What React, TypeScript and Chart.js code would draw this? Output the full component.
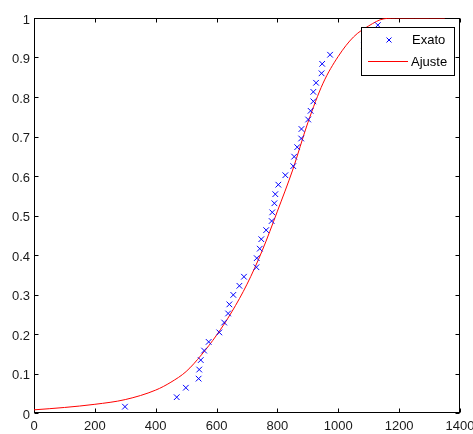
import { useEffect, useRef } from 'react';
import { Chart, registerables } from 'chart.js';

Chart.register(...registerables);

// "Exato" scatter points
const exatoX = [299, 469, 499, 541, 543, 548, 559, 574, 609, 625, 638, 642, 655, 675, 690, 731, 732, 742, 747, 763, 781, 783, 790, 793, 803, 826, 852, 855, 865, 878, 879, 901, 909, 918, 918, 927, 945, 947, 973, 1085, 1110, 1130];
const exatoY = [0.016, 0.040, 0.064, 0.087, 0.110, 0.134, 0.158, 0.180, 0.204, 0.229, 0.252, 0.275, 0.299, 0.322, 0.345, 0.369, 0.392, 0.416, 0.440, 0.463, 0.486, 0.508, 0.531, 0.554, 0.578, 0.602, 0.625, 0.649, 0.673, 0.695, 0.719, 0.743, 0.765, 0.789, 0.813, 0.836, 0.860, 0.884, 0.907, 0.930, 0.953, 0.982];

// "Ajuste" fitted curve
const ajusteX = [0, 100, 200, 300, 400, 450, 500, 550, 600, 650, 700, 750, 800, 850, 900, 950, 1000, 1050, 1100, 1150, 1200, 1250, 1300, 1350];
const ajusteY = [0.008, 0.014, 0.022, 0.034, 0.058, 0.078, 0.105, 0.147, 0.197, 0.256, 0.326, 0.411, 0.511, 0.615, 0.735, 0.835, 0.903, 0.952, 0.980, 0.998, 1.0, 1.0, 1.0, 1.0];

const xTicks = [0, 200, 400, 600, 800, 1000, 1200, 1400];
const xTickLabels = ['0', '200', '400', '600', '800', '1000', '1200', '1400'];
const yTicks = [0, 0.1, 0.2, 0.3, 0.4, 0.5, 0.6, 0.7, 0.8, 0.9, 1];
const yTickLabels = ['0', '0.1', '0.2', '0.3', '0.4', '0.5', '0.6', '0.7', '0.8', '0.9', '1'];
const seriesNames = ['Exato', 'Ajuste'];

const FONT_FAMILY = '"Liberation Sans", Arial, Helvetica, sans-serif';
const BLUE = '#0000ff';
const RED = '#ff0000';

const boxPlugin = {
  id: 'matlabBox',
  beforeDatasetsDraw(chart: any) {
    const { ctx, chartArea: a, scales } = chart;
    ctx.save();
    ctx.strokeStyle = '#000';
    ctx.lineWidth = 1;
    const L = Math.round(a.left) + 0.5;
    const R = Math.round(a.right) - 0.5;
    const T = Math.round(a.top) + 0.5;
    const B = Math.round(a.bottom) - 0.5;
    ctx.strokeRect(L, T, R - L, B - T);
    const len = 4;
    ctx.beginPath();
    scales.x.ticks.forEach((t: any) => {
      const px = Math.round(scales.x.getPixelForValue(t.value)) + 0.5;
      ctx.moveTo(px, B);
      ctx.lineTo(px, B - len);
      ctx.moveTo(px, T);
      ctx.lineTo(px, T + len);
    });
    scales.y.ticks.forEach((t: any) => {
      const py = Math.round(scales.y.getPixelForValue(t.value)) + 0.5;
      ctx.moveTo(L, py);
      ctx.lineTo(L + len, py);
      ctx.moveTo(R, py);
      ctx.lineTo(R - len, py);
    });
    ctx.stroke();
    ctx.restore();
  },
};

const legendPlugin = {
  id: 'insideLegend',
  afterDatasetsDraw(chart: any) {
    const { ctx, chartArea: a } = chart;
    const w = 94;
    const h = 49;
    const x0 = Math.round(a.right) - 5 - w;
    const y0 = Math.round(a.top) + 9;
    ctx.save();
    ctx.fillStyle = '#fff';
    ctx.fillRect(x0, y0, w, h);
    ctx.strokeStyle = '#000';
    ctx.lineWidth = 1;
    ctx.strokeRect(x0 + 0.5, y0 + 0.5, w - 1, h - 1);
    // marker x
    const mx = x0 + 28;
    const my = y0 + 13;
    const r = 2.5;
    ctx.strokeStyle = BLUE;
    ctx.beginPath();
    ctx.moveTo(mx - r, my - r);
    ctx.lineTo(mx + r, my + r);
    ctx.moveTo(mx - r, my + r);
    ctx.lineTo(mx + r, my - r);
    ctx.stroke();
    // line sample
    ctx.strokeStyle = RED;
    ctx.beginPath();
    ctx.moveTo(x0 + 7, y0 + 34.5);
    ctx.lineTo(x0 + 47, y0 + 34.5);
    ctx.stroke();
    ctx.fillStyle = '#000';
    ctx.font = '13px ' + FONT_FAMILY;
    ctx.textAlign = 'left';
    ctx.textBaseline = 'middle';
    ctx.fillText(seriesNames[0], x0 + 51, my);
    ctx.fillText(seriesNames[1], x0 + 50, y0 + 35);
    ctx.restore();
  },
};

export default function App() {
  const ref = useRef<HTMLCanvasElement>(null);
  useEffect(() => {
    document.body.style.margin = '0';
    const exato = exatoX.map((x, i) => ({ x, y: exatoY[i] }));
    const ajuste = ajusteX.map((x, i) => ({ x, y: ajusteY[i] }));
    const chart = new Chart(ref.current as HTMLCanvasElement, {
      type: 'scatter',
      data: {
        datasets: [
          {
            label: seriesNames[0],
            data: exato,
            pointStyle: 'crossRot',
            pointRadius: 4,
            borderColor: BLUE,
            backgroundColor: BLUE,
            borderWidth: 1,
            showLine: false,
          },
          {
            label: seriesNames[1],
            data: ajuste,
            showLine: true,
            pointRadius: 0,
            borderColor: RED,
            borderWidth: 1,
            cubicInterpolationMode: 'monotone',
            fill: false,
          },
        ],
      } as any,
      options: {
        animation: false,
        responsive: false,
        devicePixelRatio: 1,
        layout: { padding: { top: 18, right: 13, left: 0, bottom: 0 } },
        plugins: { legend: { display: false }, tooltip: { enabled: false } },
        scales: {
          x: {
            type: 'linear',
            min: 0,
            max: 1400,
            afterBuildTicks: (s: any) => {
              s.ticks = xTicks.map((v) => ({ value: v }));
            },
            afterFit: (s: any) => {
              s.height = 21;
              s.paddingLeft = 0;
              s.paddingRight = 0;
            },
            grid: { display: false, drawTicks: false },
            border: { display: false },
            ticks: {
              padding: 6,
              color: '#1a1a1a',
              font: { family: FONT_FAMILY, size: 13 },
              maxRotation: 0,
              autoSkip: false,
              callback: (_v: any, i: number) => xTickLabels[i],
            },
          },
          y: {
            type: 'linear',
            min: 0,
            max: 1,
            afterBuildTicks: (s: any) => {
              s.ticks = yTicks.map((v) => ({ value: v }));
            },
            afterFit: (s: any) => {
              s.width = 34;
              s.paddingTop = 0;
              s.paddingBottom = 0;
            },
            grid: { display: false, drawTicks: false },
            border: { display: false },
            ticks: {
              padding: 4,
              labelOffset: 2,
              color: '#1a1a1a',
              font: { family: FONT_FAMILY, size: 13 },
              autoSkip: false,
              callback: (_v: any, i: number) => yTickLabels[i],
            },
          },
        },
      } as any,
      plugins: [boxPlugin, legendPlugin],
    });
    return () => chart.destroy();
  }, []);
  return (
    <div style={{ width: 473, height: 434, background: '#fff' }}>
      <canvas ref={ref} width={473} height={434} style={{ display: 'block' }} />
    </div>
  );
}
